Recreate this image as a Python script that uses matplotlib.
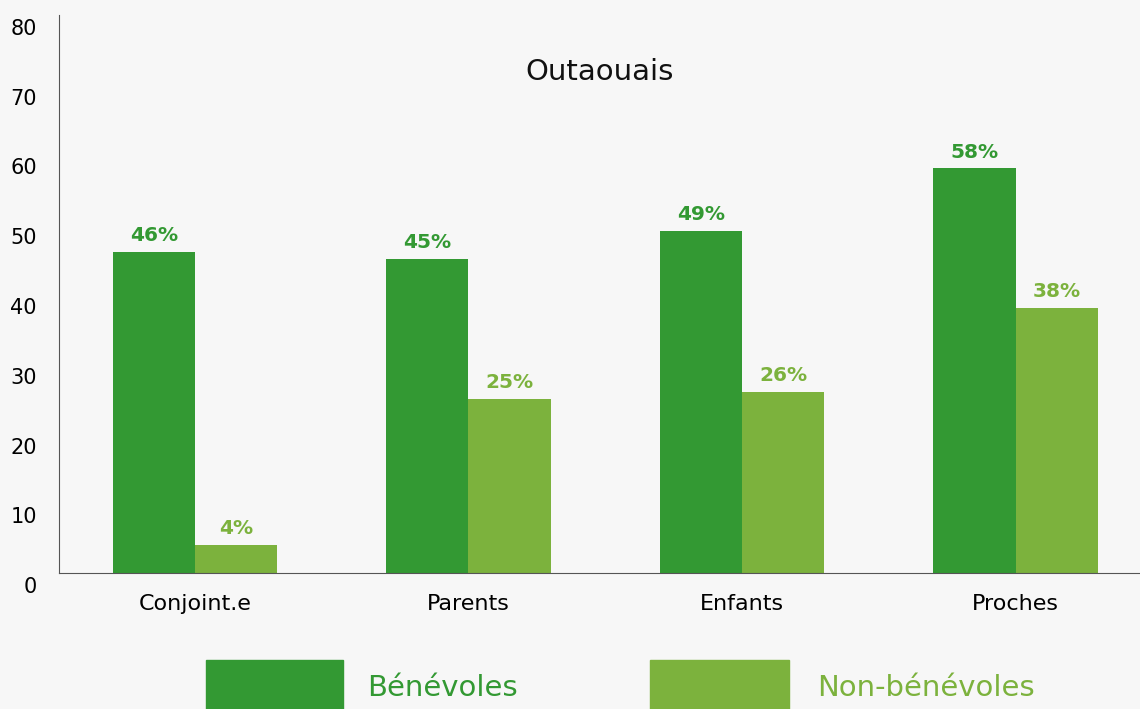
import matplotlib
matplotlib.use("Agg")
import matplotlib.pyplot as plt
from matplotlib.patches import Rectangle
import matplotlib.transforms as mtransforms
import numpy as np

# data
categories = ["Conjoint.e", "Parents", "Enfants", "Proches"]
benevoles = [46, 45, 49, 58]
non_benevoles = [4, 25, 26, 38]
series_names = ["Bénévoles", "Non-bénévoles"]
title = "Outaouais"

dark_green = "#339933"
light_green = "#7cb23d"
bg = "#f7f7f7"

plt.rcParams['font.family'] = ['DejaVu Sans']

fig = plt.figure(figsize=(11.4, 7.09), dpi=100, facecolor=bg)
ax = fig.add_axes([59 / 1140, 1 - 573 / 709, 1 - 59 / 1140, (573 - 15) / 709])
ax.set_facecolor(bg)

x = np.arange(len(categories))
w = 0.30
b1 = ax.bar(x - w / 2, benevoles, w, color=dark_green)
b2 = ax.bar(x + w / 2, non_benevoles, w, color=light_green)

for bars, vals, col in [(b1, benevoles, dark_green), (b2, non_benevoles, light_green)]:
  for bar, v in zip(bars, vals):
    ax.annotate("%d%%" % v, (bar.get_x() + bar.get_width() / 2, v),
                xytext=(0, 5), textcoords="offset points",
                ha="center", va="bottom", color=col,
                fontsize=14.5, fontweight="bold")

ax.set_xlim(-0.497, 3.455)
ax.set_ylim(0, 80)
ax.set_yticks(range(0, 81, 10))
ax.set_xticks(x)
ax.set_xticklabels(categories, fontsize=16)
ax.tick_params(axis="x", length=0, pad=15)
ax.tick_params(axis="y", length=0, pad=16, labelsize=15)
for lab in ax.get_yticklabels():
  lab.set_transform(lab.get_transform() +
                    mtransforms.ScaledTranslation(0, -12 / 100, fig.dpi_scale_trans))

for s in ["top", "right"]:
  ax.spines[s].set_visible(False)
ax.spines["left"].set_color("#555555")
ax.spines["bottom"].set_color("#555555")

ax.text(0.5, 1 - 57 / 558, title, transform=ax.transAxes,
        ha="center", va="center", fontsize=21, color="#111111")

# legend at the bottom
for x0, x1, tx, col, name in [(206, 343, 367, dark_green, series_names[0]),
                              (650, 789, 817, light_green, series_names[1])]:
  fig.add_artist(Rectangle((x0 / 1140, 0), (x1 - x0) / 1140, 49 / 709,
                           transform=fig.transFigure, color=col))
  fig.text(tx / 1140, 1 - 688 / 709, name, ha="left", va="center",
           fontsize=21, color=col)

fig.savefig("out.png", dpi=100, facecolor=bg)
